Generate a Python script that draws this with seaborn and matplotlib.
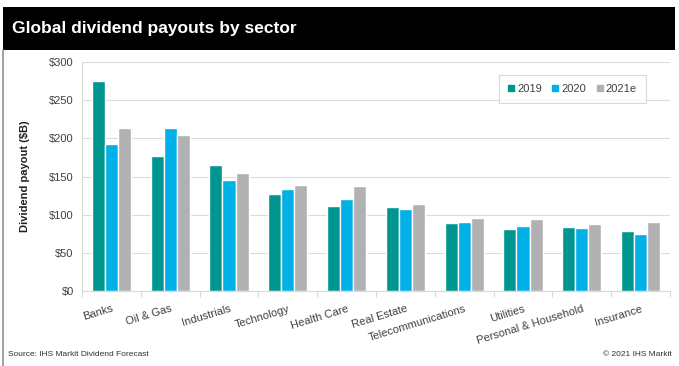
import matplotlib
matplotlib.use("Agg")
import matplotlib.pyplot as plt
import seaborn as sns
import pandas as pd
import numpy as np
from matplotlib.patches import Rectangle
from matplotlib.lines import Line2D

sectors = ["Banks", "Oil & Gas", "Industrials", "Technology", "Health Care",
           "Real Estate", "Telecommunications", "Utilities",
           "Personal & Household", "Insurance"]
years = ["2019", "2020", "2021e"]
v2019 = [275, 177, 165, 127, 111, 110, 89, 81, 84, 79]
v2020 = [192, 213, 145, 134, 121, 107, 90, 85, 83, 75]
v2021 = [213, 204, 155, 139, 137, 114, 95, 94, 88, 91]
yticks = [0, 50, 100, 150, 200, 250, 300]
ytick_labels = ["$0", "$50", "$100", "$150", "$200", "$250", "$300"]

df = pd.DataFrame({
    "sector": sectors * 3,
    "year": [years[0]] * 10 + [years[1]] * 10 + [years[2]] * 10,
    "value": v2019 + v2020 + v2021,
})

colors = ["#00958f", "#00b0e6", "#b1b1b4"]

sns.set_theme(style="white")
plt.rcParams["font.family"] = ["Liberation Sans", "DejaVu Sans"]

fig = plt.figure(figsize=(6.79, 3.66), dpi=100)
ax = fig.add_axes([82 / 679, 1 - 291 / 366, 588 / 679, 229 / 366])

sns.barplot(data=df, x="sector", y="value", hue="year", palette=colors,
            width=0.67, gap=0, saturation=1, ax=ax, legend=False,
            errorbar=None)

ax.set_ylim(0, 300)
ax.set_xlim(-0.5, len(sectors) - 0.5)
ax.set_yticks(yticks)
ax.set_yticklabels(ytick_labels, fontsize=8, color="#404040")
ax.yaxis.grid(True, color="#dcdcdc", linewidth=0.8)
ax.set_axisbelow(True)
for s in ["top", "right"]:
    ax.spines[s].set_visible(False)
ax.spines["left"].set_color("#d9d9d9")
ax.spines["bottom"].set_color("#d9d9d9")
ax.spines["left"].set_linewidth(0.8)
ax.spines["bottom"].set_linewidth(0.8)
ax.tick_params(axis="y", length=0, pad=6)
ax.set_xticks(range(len(sectors)))
ax.set_xticklabels(sectors, rotation=17, ha="right", rotation_mode="anchor",
                   fontsize=8, color="#404040")
ax.tick_params(axis="x", which="major", length=0, pad=9)
ax.set_xticks(np.arange(-0.5, len(sectors), 1), minor=True)
ax.tick_params(axis="x", which="minor", length=4, color="#d9d9d9", width=0.8,
               bottom=True)
ax.set_xlabel("")
ax.set_ylabel("Dividend payout ($B)", fontsize=8, fontweight="bold",
              color="#202020")
ax.yaxis.set_label_coords(-0.088, 0.5)

handles = [Line2D([], [], marker="s", linestyle="", markersize=4.5,
                  markerfacecolor=c, markeredgecolor=c) for c in colors]
leg = ax.legend(handles, years, loc="upper left",
                bbox_to_anchor=((499 - 82) / 588, (291 - 75) / 229),
                borderaxespad=0,
                ncol=3, frameon=True, fontsize=8, handlelength=0.6,
                handletextpad=0.25, columnspacing=0.9, borderpad=0.8,
                fancybox=False)
leg.get_frame().set_edgecolor("#d0d0d0")
leg.get_frame().set_linewidth(0.8)
for t in leg.get_texts():
    t.set_color("#404040")

# Title bar
fig.patches.append(Rectangle((3 / 679, 1 - 50 / 366), 672 / 679, 43 / 366,
                             transform=fig.transFigure, facecolor="black",
                             edgecolor="none", zorder=0))
fig.text(12 / 679, 1 - 29 / 366, "Global dividend payouts by sector",
         color="white", fontsize=12.5, fontweight="bold", va="center",
         ha="left")
# Left border line
fig.add_artist(Line2D([3 / 679, 3 / 679], [0, 1 - 50 / 366],
                      transform=fig.transFigure, color="#909090",
                      linewidth=1.2))

fig.text(8 / 679, 1 - 355 / 366, "Source: IHS Markit Dividend Forecast",
         fontsize=6, color="#303030", va="center", ha="left")
fig.text(672 / 679, 1 - 355 / 366, "\u00a9 2021 IHS Markit",
         fontsize=6, color="#303030", va="center", ha="right")

fig.savefig("out.png", dpi=100)
